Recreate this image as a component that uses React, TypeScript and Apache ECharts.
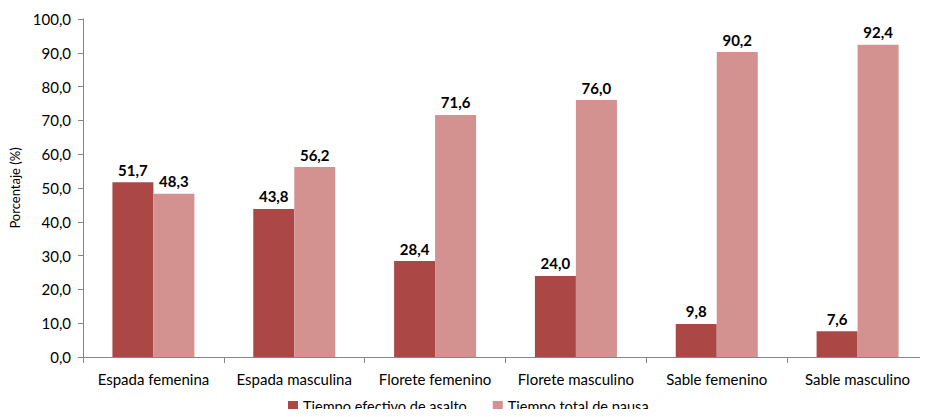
import React, { useEffect, useRef } from "react";
import * as echarts from "echarts";

const categories = [
  "Espada femenina",
  "Espada masculina",
  "Florete femenino",
  "Florete masculino",
  "Sable femenino",
  "Sable masculino",
];
const seriesNames = ["Tiempo efectivo de asalto", "Tiempo total de pausa"];
const tiempoEfectivo = [51.7, 43.8, 28.4, 24.0, 9.8, 7.6];
const tiempoPausa = [48.3, 56.2, 71.6, 76.0, 90.2, 92.4];
const colors = ["#AB4846", "#D39190"];

const FONT = "Lato, 'Open Sans', sans-serif";
const fmt = (v: number) => v.toFixed(1).replace(".", ",");

export default function App() {
  const ref = useRef<HTMLDivElement>(null);

  useEffect(() => {
    if (!ref.current) return;
    const chart = echarts.init(ref.current, undefined, { renderer: "svg" });
    const label = {
      show: true,
      position: "top" as const,
      distance: 5,
      fontFamily: FONT,
      fontWeight: "bold" as const,
      fontSize: 15,
      color: "#000",
      formatter: (p: any) => fmt(p.value),
    };
    chart.setOption({
      animation: false,
      textStyle: { fontFamily: FONT },
      grid: { left: 80, top: 19, bottom: 60, right: -7 },
      legend: {
        top: 398,
        left: 288,
        padding: 0,
        itemWidth: 10,
        itemHeight: 10,
        itemGap: 26,
        icon: "rect",
        textStyle: { fontFamily: FONT, fontSize: 14.5, color: "#000", lineHeight: 16 },
        data: seriesNames,
      },
      xAxis: {
        type: "category",
        data: categories,
        axisLine: { lineStyle: { color: "#868686" } },
        axisTick: { show: true, length: 6, lineStyle: { color: "#868686" } },
        axisLabel: {
          interval: 0,
          fontFamily: FONT,
          fontSize: 15,
          color: "#000",
          margin: 14,
        },
      },
      yAxis: {
        type: "value",
        min: 0,
        max: 100,
        interval: 10,
        name: "Porcentaje (%)",
        nameLocation: "middle",
        nameGap: 62,
        nameTextStyle: { fontFamily: FONT, fontSize: 13, color: "#000" },
        axisLine: { show: true, lineStyle: { color: "#868686" } },
        axisTick: { show: true, length: 5, lineStyle: { color: "#868686" } },
        splitLine: { show: false },
        axisLabel: {
          fontFamily: FONT,
          fontSize: 15,
          color: "#000",
          margin: 12,
          formatter: (v: number) => fmt(v),
        },
      },
      series: [
        {
          name: seriesNames[0],
          type: "bar",
          data: tiempoEfectivo,
          barWidth: 41,
          barGap: "0%",
          itemStyle: { color: colors[0] },
          label,
        },
        {
          name: seriesNames[1],
          type: "bar",
          data: tiempoPausa,
          barWidth: 41,
          barGap: "0%",
          itemStyle: { color: colors[1] },
          label,
        },
      ],
    });
    return () => chart.dispose();
  }, []);

  return <div ref={ref} style={{ width: 928, height: 417, margin: -8 }} />;
}
